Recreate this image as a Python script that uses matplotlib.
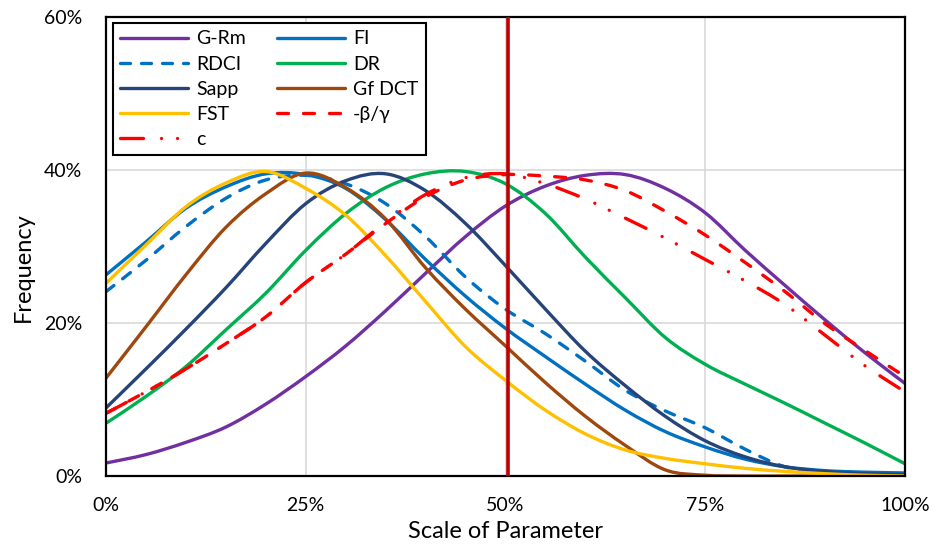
import matplotlib
matplotlib.use("Agg")
import matplotlib.pyplot as plt
from matplotlib.lines import Line2D
from matplotlib.patches import PathPatch
from matplotlib.path import Path
from matplotlib.ticker import FuncFormatter, FixedLocator

plt.rcParams["font.family"] = ["Lato", "DejaVu Sans"]

# Scale of parameter (%)
scale = [0, 5, 10, 15, 20, 25, 30, 35, 40, 45, 50,
         55, 60, 65, 70, 75, 80, 85, 90, 95, 100]

# Frequency (%) of each index along the parameter scale
g_rm = [1.7, 2.8, 4.4, 6.4, 9.4, 13.0, 17.0, 21.6, 26.5, 31.3, 35.3,
        37.9, 39.3, 39.4, 37.6, 34.4, 29.5, 24.9, 20.4, 16.1, 12.1]
fi = [26.3, 30.6, 35.0, 37.8, 39.5, 39.4, 37.6, 33.5, 28.3, 23.5, 19.3,
      15.6, 12.0, 8.6, 5.8, 3.8, 2.2, 1.2, 0.7, 0.5, 0.4]
rdci = [24.1, 28.2, 32.6, 36.3, 38.7, 39.3, 38.2, 35.6, 31.3, 26.0, 21.8,
        18.6, 15.0, 11.2, 8.5, 6.3, 3.5, 1.2, 0.4, 0.2, 0.1]
dr = [6.9, 10.4, 14.3, 19.1, 23.9, 29.5, 34.3, 37.7, 39.5, 39.8, 38.2,
      34.3, 28.6, 23.3, 18.1, 14.6, 12.0, 9.5, 6.9, 4.3, 1.6]
sapp = [8.9, 14.0, 19.2, 24.6, 30.4, 35.6, 38.6, 39.5, 37.3, 33.0, 27.5,
        21.8, 16.3, 11.8, 7.8, 4.6, 2.5, 1.2, 0.6, 0.3, 0.2]
gf_dct = [12.8, 19.5, 26.3, 32.5, 36.9, 39.6, 37.7, 33.6, 27.2, 21.8, 17.0,
          12.2, 7.8, 4.0, 0.8, 0.1, 0.0, 0.0, 0.0, 0.0, 0.0]
fst = [25.2, 30.2, 35.2, 38.3, 39.8, 37.6, 34.1, 28.8, 22.8, 16.9, 12.5,
       8.6, 5.5, 3.4, 2.3, 1.6, 1.0, 0.6, 0.3, 0.1, 0.0]
beta_gamma = [8.2, 11.0, 14.0, 17.3, 20.8, 25.3, 29.0, 33.0, 36.5, 38.7, 39.4,
              39.2, 38.7, 37.3, 34.6, 31.5, 27.9, 24.1, 19.9, 16.4, 13.0]
c_vals = [8.2, 11.0, 14.0, 17.3, 20.8, 25.3, 29.0, 33.2, 36.8, 39.0, 39.5,
          38.2, 36.2, 33.7, 31.1, 28.3, 25.5, 22.4, 18.4, 14.4, 11.0]

# Chosen parameter scale marked by the vertical line (%)
marker_scale = 50.3

x_ticks = [0, 25, 50, 75, 100]
y_ticks = [0, 20, 40, 60]

LW = 2.4
series = [
    ("G-Rm", g_rm, "#7030A0", "solid"),
    ("FI", fi, "#0070C0", "solid"),
    ("RDCI", rdci, "#0070C0", (0, (3.0, 3.3))),
    ("DR", dr, "#00B050", "solid"),
    ("Sapp", sapp, "#264478", "solid"),
    ("Gf DCT", gf_dct, "#9E480E", "solid"),
    ("FST", fst, "#FFC000", "solid"),
    ("-β/γ", beta_gamma, "#FF0000", (0, (3.3, 4.5))),
    ("c", c_vals, "#FF0000", (0, (6.9, 5.4, 0.01, 4.8, 0.01, 5.4))),
]


def smooth_path(xs, ys):
    """Smoothed line through the points (cubic Bezier, Catmull-Rom tangents)."""
    pts = list(zip(xs, ys))
    n = len(pts)
    verts = [pts[0]]
    codes = [Path.MOVETO]
    for i in range(n - 1):
        p0 = pts[i - 1] if i > 0 else pts[i]
        p1 = pts[i]
        p2 = pts[i + 1]
        p3 = pts[i + 2] if i + 2 < n else pts[i + 1]
        c1 = (p1[0] + (p2[0] - p0[0]) / 6, p1[1] + (p2[1] - p0[1]) / 6)
        c2 = (p2[0] - (p3[0] - p1[0]) / 6, p2[1] - (p3[1] - p1[1]) / 6)
        verts += [c1, c2, p2]
        codes += [Path.CURVE4] * 3
    return Path(verts, codes)


fig = plt.figure(figsize=(9.33, 5.46), dpi=100)
ax = fig.add_axes([106 / 933, 70 / 546, 799 / 933, 459 / 546])

handles = {}
for k, (name, vals, color, ls) in enumerate(series):
    patch = PathPatch(smooth_path(scale, vals), fill=False, edgecolor=color,
                      lw=LW, linestyle=ls, capstyle="round",
                      joinstyle="round", zorder=2 + k * 0.01)
    ax.add_patch(patch)
    handles[name] = Line2D([], [], color=color, lw=LW, linestyle=ls,
                           solid_capstyle="round", dash_capstyle="round")

ax.plot([marker_scale, marker_scale], [y_ticks[0], y_ticks[-1]],
        color="#C00000", lw=2.6, solid_capstyle="butt", zorder=5)

ax.set_xlim(0, 100)
ax.set_ylim(0, 60)
ax.xaxis.set_major_locator(FixedLocator(x_ticks))
ax.yaxis.set_major_locator(FixedLocator(y_ticks))
pct = FuncFormatter(lambda v, _: f"{v:.0f}%")
ax.xaxis.set_major_formatter(pct)
ax.yaxis.set_major_formatter(pct)
ax.tick_params(axis="both", length=0, labelsize=14)
ax.tick_params(axis="y", pad=17)
ax.tick_params(axis="x", pad=15)

ax.set_axisbelow(True)
ax.grid(True, color="#D9D9D9", lw=1.2)
for sp in ax.spines.values():
    sp.set_color("black")
    sp.set_linewidth(1.6)

ax.set_xlabel("Scale of Parameter", fontsize=17)
ax.set_ylabel("Frequency", fontsize=17)
ax.xaxis.set_label_coords(0.5, -0.098)
ax.yaxis.set_label_coords(-0.090, 0.455)

order = ["G-Rm", "RDCI", "Sapp", "FST", "c", "FI", "DR", "Gf DCT", "-β/γ"]
leg = ax.legend([handles[n] for n in order], order, ncol=2,
                loc="upper left", bbox_to_anchor=(0.0088, 0.987),
                borderaxespad=0, fontsize=14, frameon=True, fancybox=False,
                edgecolor="black", framealpha=1, handlelength=3.5,
                handletextpad=0.4, columnspacing=1.6, labelspacing=0.42,
                borderpad=0.38)
leg.get_frame().set_linewidth(1.5)
leg.set_zorder(10)

fig.savefig("out.png", dpi=100)
